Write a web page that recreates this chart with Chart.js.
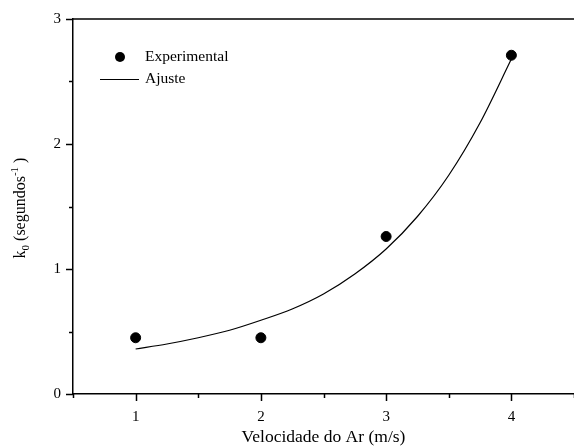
<!DOCTYPE html>
<html>
<head>
<meta charset="utf-8">
<script src="https://cdn.jsdelivr.net/npm/chart.js@4/dist/chart.umd.min.js"></script>
<style>
  html, body { margin: 0; padding: 0; background: #fff; }
  #wrap { width: 574px; height: 448px; }
</style>
</head>
<body>
<div id="wrap"><canvas id="chart" width="574" height="448"></canvas></div>
<script>
var ctx = document.getElementById('chart').getContext('2d');

// measured points
var velocidade = [1, 2, 3, 4];
var k0 = [0.45, 0.45, 1.26, 2.71];

// fitted curve
var ajusteX = [1, 1.25, 1.5, 1.75, 2, 2.25, 2.5, 2.75, 3, 3.25, 3.5, 3.75, 4];
var ajusteY = [0.36, 0.40, 0.45, 0.51, 0.59, 0.68, 0.80, 0.96, 1.16, 1.42, 1.75, 2.17, 2.68];

var xTicks = [1, 2, 3, 4];
var yTicks = [0, 1, 2, 3];

var serif = "'Liberation Serif', 'Times New Roman', serif";

function pairs(xs, ys) {
  return xs.map(function(x, i) { return {x: x, y: ys[i]}; });
}

// ticks, top frame line, legend and y title with sub/superscript
var decor = {
  id: 'decor',
  afterDraw: function(chart) {
    var c = chart.ctx, a = chart.chartArea;
    var xs = chart.scales.x, ys = chart.scales.y;
    c.save();
    c.strokeStyle = '#000';
    c.lineWidth = 1.5;
    // top frame
    c.beginPath();
    c.moveTo(a.left, a.top);
    c.lineTo(a.right, a.top);
    c.stroke();
    // x ticks (major + minor), outward
    for (var v = 0.5; v <= 4.5; v += 0.5) {
      var px = Math.round(xs.getPixelForValue(v)) + 0.5;
      var len = (v % 1 === 0) ? 7 : 4;
      c.beginPath();
      c.moveTo(px, a.bottom);
      c.lineTo(px, a.bottom + len);
      c.stroke();
    }
    // y ticks, outward
    for (var w = 0; w <= 3; w += 0.5) {
      var py = Math.round(ys.getPixelForValue(w)) + 0.5;
      var l2 = (w % 1 === 0) ? 7 : 4;
      c.beginPath();
      c.moveTo(a.left, py);
      c.lineTo(a.left - l2, py);
      c.stroke();
    }
    // legend
    c.fillStyle = '#000';
    c.beginPath();
    c.arc(120, 57, 5, 0, Math.PI * 2);
    c.fill();
    c.lineWidth = 1;
    c.beginPath();
    c.moveTo(100, 79.5);
    c.lineTo(139, 79.5);
    c.stroke();
    c.font = '15.5px ' + serif;
    c.textBaseline = 'middle';
    c.textAlign = 'left';
    c.fillText('Experimental', 145, 57);
    c.fillText('Ajuste', 145, 79);
    // y title
    c.translate(21, 208);
    c.rotate(-Math.PI / 2);
    var parts = [
      {t: 'k', s: 16, dy: 0},
      {t: '0', s: 11, dy: 5},
      {t: ' (segundos', s: 16, dy: 0},
      {t: '-1', s: 11, dy: -6},
      {t: ' )', s: 16, dy: 0}
    ];
    var total = 0;
    parts.forEach(function(p) { c.font = p.s + 'px ' + serif; p.w = c.measureText(p.t).width; total += p.w; });
    var cx = -total / 2;
    parts.forEach(function(p) {
      c.font = p.s + 'px ' + serif;
      c.fillText(p.t, cx, p.dy);
      cx += p.w;
    });
    c.restore();
  }
};

var data = {
  datasets: [{
    type: 'scatter',
    label: 'Experimental',
    data: pairs(velocidade, k0),
    backgroundColor: '#000',
    borderColor: '#000',
    pointRadius: 5,
    pointHoverRadius: 5
  }, {
    type: 'line',
    label: 'Ajuste',
    data: pairs(ajusteX, ajusteY),
    borderColor: '#000',
    borderWidth: 1.2,
    pointRadius: 0,
    fill: false,
    cubicInterpolationMode: 'monotone'
  }]
};

var config = {
  data: data,
  options: {
    responsive: false,
    animation: false,
    layout: { autoPadding: false, padding: { top: 19, right: 0, left: 0, bottom: 0 } },
    plugins: {
      legend: { display: false },
      tooltip: { enabled: false }
    },
    scales: {
      x: {
        type: 'linear',
        min: 0.5,
        max: 4.5,
        grid: { display: false },
        border: { display: true, color: '#000', width: 1.5 },
        afterBuildTicks: function(s) { s.ticks = xTicks.map(function(v) { return {value: v}; }); },
        afterFit: function(s) { s.height = 54; s.paddingLeft = 0; s.paddingRight = 0; },
        ticks: {
          padding: 6,
          color: '#000',
          font: { family: serif, size: 15 },
          maxRotation: 0
        },
        title: {
          display: true,
          text: 'Velocidade do Ar (m/s)',
          color: '#000',
          font: { family: serif, size: 17.5 },
          padding: { top: 4, bottom: 0 }
        }
      },
      y: {
        type: 'linear',
        min: 0,
        max: 3,
        grid: { display: false },
        border: { display: true, color: '#000', width: 1.5 },
        afterBuildTicks: function(s) { s.ticks = yTicks.map(function(v) { return {value: v}; }); },
        afterFit: function(s) { s.width = 73; s.paddingTop = 0; s.paddingBottom = 0; },
        ticks: {
          padding: 4,
          color: '#000',
          font: { family: serif, size: 15 }
        }
      }
    }
  },
  plugins: [decor]
};

var myChart = new Chart(ctx, config);
</script>
</body>
</html>
